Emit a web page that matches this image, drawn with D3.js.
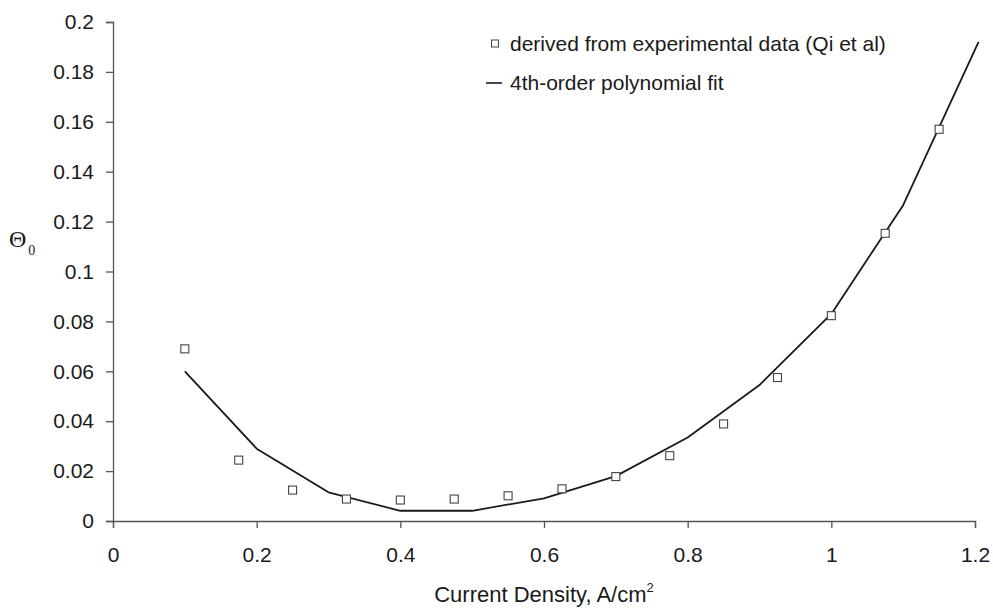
<!DOCTYPE html>
<html>
<head>
<meta charset="utf-8">
<script src="https://cdn.jsdelivr.net/npm/d3@7"></script>
<style>
  html, body { margin: 0; padding: 0; background: #fff; }
  svg { display: block; font-family: "Liberation Sans", Arial, sans-serif; }
</style>
</head>
<body>
<svg id="chart" width="993" height="610"></svg>
<script>
// Theta_0 values derived from experimental data (Qi et al)
const expX = [0.1, 0.175, 0.25, 0.325, 0.4, 0.475, 0.55, 0.625, 0.7, 0.775, 0.85, 0.925, 1.0, 1.075, 1.15];
const expY = [0.069, 0.0244, 0.0124, 0.0088, 0.0084, 0.0088, 0.0101, 0.0129, 0.0178, 0.0262, 0.0389, 0.0575, 0.0823, 0.1153, 0.157];

// 4th-order polynomial fit, sampled curve
const fitX = [0.1, 0.2, 0.3, 0.4, 0.5, 0.6, 0.7, 0.8, 0.9, 1.0, 1.1, 1.205];
const fitY = [0.060, 0.029, 0.0115, 0.0041, 0.0041, 0.0091, 0.018, 0.0335, 0.0545, 0.083, 0.1266, 0.192];

// Axis ticks
const xTicks = [0, 0.2, 0.4, 0.6, 0.8, 1, 1.2];
const yTicks = [0, 0.02, 0.04, 0.06, 0.08, 0.1, 0.12, 0.14, 0.16, 0.18, 0.2];

const legendLabels = ["derived from experimental data (Qi et al)", "4th-order polynomial fit"];

const svg = d3.select("#chart");
const margin = { left: 113, right: 18, top: 22, bottom: 89 };
const W = 993, H = 610;

const x = d3.scaleLinear().domain([0, 1.2]).range([margin.left, W - margin.right]);
const y = d3.scaleLinear().domain([0, 0.2]).range([H - margin.bottom, margin.top]);

const axisColor = "#555";
const textColor = "#1a1a1a";
const fontSize = "21px";

// x axis
const gx = svg.append("g")
  .attr("transform", `translate(0,${y(0)})`)
  .call(d3.axisBottom(x).tickValues(xTicks).tickSize(7).tickPadding(19)
    .tickFormat(d => String(+d.toFixed(2))));
// y axis
const gy = svg.append("g")
  .attr("transform", `translate(${x(0)},0)`)
  .call(d3.axisLeft(y).tickValues(yTicks).tickSize(7).tickPadding(12)
    .tickFormat(d => String(+d.toFixed(2))));

[gx, gy].forEach(g => {
  g.select(".domain").attr("stroke", axisColor).attr("stroke-width", 1.3);
  g.selectAll(".tick line").attr("stroke", axisColor).attr("stroke-width", 1.3);
  g.selectAll(".tick text")
    .attr("fill", textColor)
    .style("font-size", fontSize)
    .style("font-family", "'Liberation Sans', Arial, sans-serif");
});
gx.selectAll(".tick text").attr("dy", "0.71em");

// fit curve
const line = d3.line().x(d => x(d[0])).y(d => y(d[1]));
svg.append("path")
  .datum(fitX.map((v, i) => [v, fitY[i]]))
  .attr("d", line)
  .attr("fill", "none")
  .attr("stroke", "#1a1a1a")
  .attr("stroke-width", 1.8)
  .attr("stroke-linejoin", "round");

// experimental squares
const s = 8;
svg.append("g").selectAll("rect")
  .data(expX.map((v, i) => [v, expY[i]]))
  .join("rect")
  .attr("x", d => x(d[0]) - s / 2)
  .attr("y", d => y(d[1]) - s / 2)
  .attr("width", s)
  .attr("height", s)
  .attr("fill", "#fff")
  .attr("stroke", "#444")
  .attr("stroke-width", 1.1);

// legend
const lg = svg.append("g");
lg.append("rect")
  .attr("x", 491.5).attr("y", 40).attr("width", 7).attr("height", 7)
  .attr("fill", "#fff").attr("stroke", "#444").attr("stroke-width", 1);
lg.append("text")
  .attr("x", 510).attr("y", 51)
  .attr("fill", textColor).style("font-size", fontSize)
  .text(legendLabels[0]);
lg.append("line")
  .attr("x1", 486).attr("x2", 502).attr("y1", 83).attr("y2", 83)
  .attr("stroke", "#1a1a1a").attr("stroke-width", 1.6);
lg.append("text")
  .attr("x", 510).attr("y", 90)
  .attr("fill", textColor).style("font-size", fontSize)
  .text(legendLabels[1]);

// axis titles
const xt = svg.append("text")
  .attr("x", (x(0) + x(1.2)) / 2).attr("y", 602)
  .attr("text-anchor", "middle")
  .attr("fill", textColor).style("font-size", "22px");
xt.append("tspan").text("Current Density, A/cm");
xt.append("tspan").attr("dy", -10).style("font-size", "13px").text("2");

const yt = svg.append("text")
  .attr("x", 9).attr("y", 247)
  .attr("fill", textColor)
  .style("font-family", "'Liberation Serif', 'Times New Roman', serif")
  .style("font-size", "24px");
yt.append("tspan").text("Θ");
yt.append("tspan").attr("dy", 8).attr("dx", 2).style("font-size", "14px").text("0");
</script>
</body>
</html>
